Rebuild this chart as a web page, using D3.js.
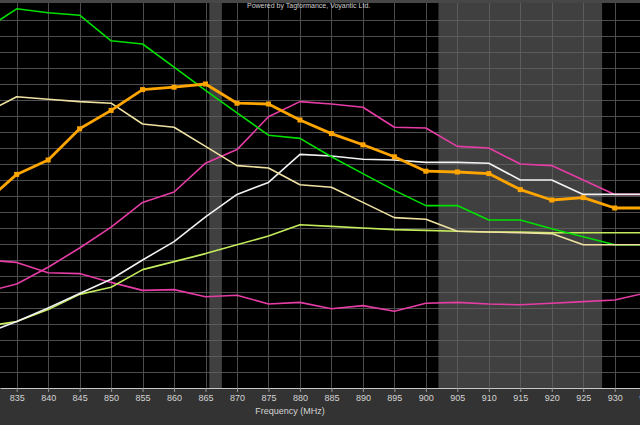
<!DOCTYPE html>
<html>
<head>
<meta charset="utf-8">
<script src="https://cdn.jsdelivr.net/npm/d3@7"></script>
<style>
  body { margin: 0; background: #333; }
  svg { display: block; }
</style>
</head>
<body>
<div id="chart"></div>
<script>
/* Tagformance style frequency sweep, 7 tags */

// frequencies (MHz), 830 and 935 fall just outside the visible window
const freqs = [830, 835, 840, 845, 850, 855, 860, 865, 870, 875, 880, 885,
  890, 895, 900, 905, 910, 915, 920, 925, 930, 935];

// labelled ticks (830 is entirely off the left edge)
const tickFreqs = freqs.slice(1);

const green = [22.4, 23.7, 23.45, 23.3, 21.7, 21.5, 20.05, 18.6, 17.2, 15.8, 15.6,
  14.45, 13.4, 12.35, 11.4, 11.4, 10.5, 10.5, 9.95, 9.45, 8.95, 8.95];
const khaki = [17.2, 18.2, 18.05, 17.9, 17.8, 16.5, 16.3, 15.1, 13.9, 13.75, 12.7,
  12.55, 11.6, 10.65, 10.55, 9.8, 9.75, 9.7, 9.65, 8.95, 8.95, 8.95];
const orange = [11.6, 13.35, 14.25, 16.2, 17.35, 18.65, 18.8, 19.0, 17.8, 17.75, 16.75,
  15.9, 15.2, 14.45, 13.55, 13.5, 13.4, 12.4, 11.75, 11.9, 11.25, 11.25];
const pinkHigh = [6.0, 6.5, 7.55, 8.75, 10.05, 11.6, 12.25, 14.05, 14.9, 16.95, 17.9,
  17.75, 17.55, 16.3, 16.25, 15.1, 15.0, 14.0, 13.9, 13.0, 12.1, 12.1];
const white = [3.4, 4.15, 5.0, 5.9, 6.8, 8.0, 9.15, 10.7, 12.1, 12.85, 14.6,
  14.5, 14.3, 14.25, 14.1, 14.1, 14.05, 13.0, 13.0, 12.1, 12.1, 12.1];
const lime = [3.85, 4.15, 4.9, 5.85, 6.3, 7.4, 7.9, 8.4, 8.95, 9.5, 10.2,
  10.1, 10.0, 9.9, 9.85, 9.8, 9.75, 9.75, 9.7, 9.7, 9.7, 9.7];
const pinkLow = [8.0, 7.85, 7.2, 7.15, 6.6, 6.1, 6.15, 5.7, 5.8, 5.25, 5.35,
  4.95, 5.15, 4.8, 5.3, 5.35, 5.25, 5.2, 5.3, 5.4, 5.5, 5.95];

// regulatory bands (MHz)
const bands = [[865.6, 867.6], [902, 928]];

const width = 640;
const height = 425;
const plotTop = 3;
const plotBottom = 388;

const svg = d3.select('#chart')
  .append('svg')
  .attr('width', width)
  .attr('height', height)
  .style('font-family', '"Liberation Sans", Arial, sans-serif');

const x = d3.scaleLinear()
  .domain([832.35, 934.02])
  .range([0, width]);

const y = d3.scaleLinear()
  .domain([0, 24])
  .range([plotBottom, 4]);

// frame
svg.append('rect')
  .attr('width', width)
  .attr('height', height)
  .attr('fill', '#333');

svg.append('rect')
  .attr('width', width)
  .attr('height', plotTop)
  .attr('fill', '#474747');

svg.append('clipPath')
  .attr('id', 'plot-clip')
  .append('rect')
  .attr('x', 0)
  .attr('y', plotTop)
  .attr('width', width)
  .attr('height', plotBottom - plotTop);

const plot = svg.append('g')
  .attr('clip-path', 'url(#plot-clip)');

plot.append('rect')
  .attr('x', 0)
  .attr('y', plotTop)
  .attr('width', width)
  .attr('height', plotBottom - plotTop)
  .attr('fill', '#000');

// grid
plot.selectAll('.vgrid')
  .data(freqs)
  .enter()
  .append('line')
  .attr('x1', (d) => Math.round(x(d)) + 0.5)
  .attr('x2', (d) => Math.round(x(d)) + 0.5)
  .attr('y1', plotTop)
  .attr('y2', plotBottom)
  .attr('stroke', '#4d4d4d');

plot.selectAll('.hgrid')
  .data(d3.range(1, 24))
  .enter()
  .append('line')
  .attr('x1', 0)
  .attr('x2', width)
  .attr('y1', (d) => Math.round(y(d)) + 0.5)
  .attr('y2', (d) => Math.round(y(d)) + 0.5)
  .attr('stroke', '#4d4d4d');

// shaded bands sit over the grid so the grid shows through lighter
plot.selectAll('.band')
  .data(bands)
  .enter()
  .append('rect')
  .attr('x', (d) => x(d[0]))
  .attr('y', plotTop)
  .attr('width', (d) => x(d[1]) - x(d[0]))
  .attr('height', plotBottom - plotTop)
  .attr('fill', 'rgba(100,100,100,0.64)');

const series = [
  { values: pinkLow, color: '#e63ca5', w: 1.6 },
  { values: lime, color: '#c4ec5c', w: 1.6 },
  { values: pinkHigh, color: '#e63ca5', w: 1.6 },
  { values: white, color: '#f2f2f2', w: 1.6 },
  { values: green, color: '#00e000', w: 1.6 },
  { values: khaki, color: '#f0e2a2', w: 1.6 },
  { values: orange, color: '#ffa500', w: 2.8 },
];

const line = d3.line()
  .x((d, i) => x(freqs[i]))
  .y((d) => y(d));

plot.selectAll('.series')
  .data(series)
  .enter()
  .append('path')
  .attr('d', (s) => line(s.values))
  .attr('fill', 'none')
  .attr('stroke', (s) => s.color)
  .attr('stroke-width', (s) => s.w)
  .attr('stroke-linejoin', 'round');

// square markers on the orange trace
plot.selectAll('.marker')
  .data(orange)
  .enter()
  .append('rect')
  .attr('x', (d, i) => x(freqs[i]) - 2.5)
  .attr('y', (d) => y(d) - 2.5)
  .attr('width', 5)
  .attr('height', 5)
  .attr('fill', '#ffa500');

// x axis
const xAxis = svg.append('g')
  .attr('transform', `translate(0,${plotBottom})`)
  .call(d3.axisBottom(x).tickValues(tickFreqs).tickSize(4).tickSizeOuter(0));

xAxis.select('.domain')
  .attr('stroke', '#c8c8c8');

xAxis.selectAll('.tick line')
  .attr('stroke', '#9a9a9a');

xAxis.selectAll('.tick text')
  .attr('fill', '#d4d4d4')
  .attr('font-size', '9px')
  .attr('font-family', '"Liberation Sans", Arial, sans-serif');

svg.append('text')
  .attr('x', 290)
  .attr('y', 414)
  .attr('text-anchor', 'middle')
  .attr('font-size', '9px')
  .attr('fill', '#d4d4d4')
  .text('Frequency (MHz)');

svg.append('text')
  .attr('x', 247)
  .attr('y', 7.5)
  .attr('font-size', '7px')
  .attr('fill', '#cfcfcf')
  .text('Powered by Tagformance, Voyantic Ltd.');
</script>
</body>
</html>
